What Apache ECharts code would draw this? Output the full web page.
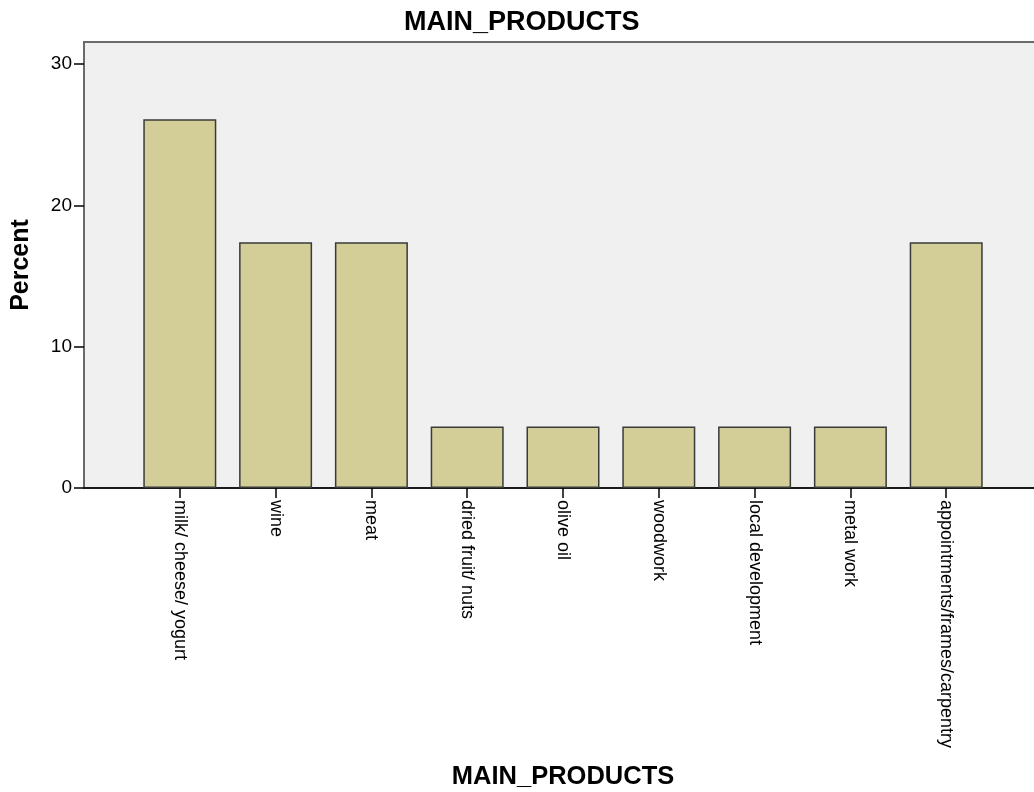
<!DOCTYPE html>
<html>
<head>
<meta charset="utf-8">
<script src="https://cdn.jsdelivr.net/npm/echarts@6/dist/echarts.min.js"></script>
<style>
html,body{margin:0;padding:0;background:#fff;}
#c{width:1034px;height:792px;}
</style>
</head>
<body>
<div id="c"></div>
<script>
var categories = ['milk/ cheese/ yogurt', 'wine', 'meat', 'dried fruit/ nuts', 'olive oil', 'woodwork', 'local development', 'metal work', 'appointments/frames/carpentry'];
var percents = [26.09, 17.39, 17.39, 4.35, 4.35, 4.35, 4.35, 4.35, 17.39];
var yTicks = [0, 10, 20, 30];

var axisCats = [''].concat(categories).concat(['']);
var axisVals = ['-'].concat(percents).concat(['-']);

var chart = echarts.init(document.getElementById('c'), null, {renderer: 'canvas'});
var FONT = '"Liberation Sans", Arial, sans-serif';
chart.setOption({
  animation: false,
  backgroundColor: '#ffffff',
  title: {
    text: 'MAIN_PRODUCTS',
    left: 399,
    top: 4,
    textStyle: {fontFamily: FONT, fontSize: 27, fontWeight: 'bold', color: '#000'}
  },
  grid: {
    left: 84, top: 42, width: 958, height: 446,
    outerBoundsMode: 'none', containLabel: false,
    show: true, backgroundColor: '#f0f0f0', borderColor: '#6a6a6a', borderWidth: 2
  },
  xAxis: {
    type: 'category',
    data: axisCats,
    boundaryGap: false,
    name: 'MAIN_PRODUCTS',
    nameLocation: 'middle',
    nameGap: 276,
    nameTextStyle: {fontFamily: FONT, fontSize: 25.5, fontWeight: 'bold', color: '#000'},
    axisLine: {lineStyle: {color: '#000', width: 1.5}},
    axisTick: {
      length: 10,
      interval: function (i, v) { return v !== ''; },
      lineStyle: {color: '#000', width: 1.5}
    },
    axisLabel: {
      interval: 0, rotate: -90, margin: 12,
      fontFamily: FONT, fontSize: 18, color: '#000'
    },
    splitLine: {show: false}
  },
  yAxis: {
    type: 'value',
    min: 0, max: 31.56,
    name: 'Percent',
    nameLocation: 'middle',
    nameGap: 50,
    nameTextStyle: {fontFamily: FONT, fontSize: 25, fontWeight: 'bold', color: '#000'},
    axisLine: {show: true, lineStyle: {color: '#6a6a6a', width: 2}},
    axisTick: {show: true, length: 10, customValues: yTicks, lineStyle: {color: '#000', width: 1.5}},
    axisLabel: {customValues: yTicks, margin: 12, fontFamily: FONT, fontSize: 19, color: '#000'},
    splitLine: {show: false}
  },
  series: [{
    type: 'bar',
    data: axisVals,
    barWidth: 73,
    itemStyle: {color: '#d3ce97', borderColor: '#3a3a3a', borderWidth: 1.5}
  }]
});
</script>
</body>
</html>
